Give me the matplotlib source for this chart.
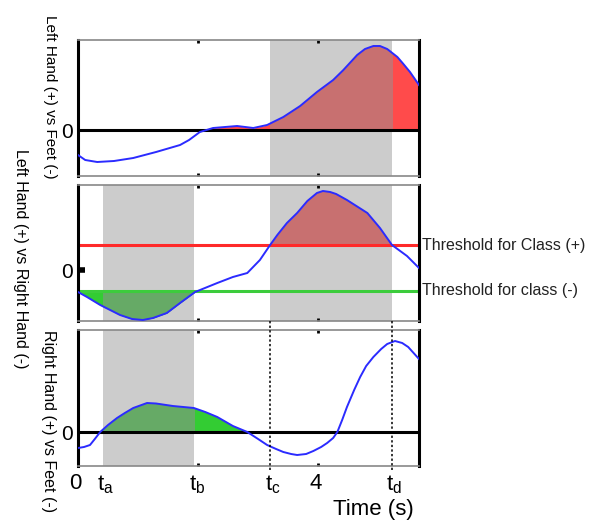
import matplotlib.pyplot as plt
from matplotlib.patches import Rectangle
from matplotlib.transforms import blended_transform_factory, offset_copy

plt.rcParams['font.family'] = ['Liberation Sans', 'DejaVu Sans']
plt.rcParams['mathtext.fontset'] = 'custom'
plt.rcParams['mathtext.rm'] = 'Liberation Sans'

# event times (s)
t_a, t_b, t_c, t_d = 0.41, 1.94, 3.2, 5.23
x_max = 5.68

# panel 1: Left Hand vs Feet
t1 = [0, 0.12, 0.32, 0.6, 0.92, 1.3, 1.7, 1.85, 2.03, 2.25, 2.65, 2.92,
      3.15, 3.42, 3.7, 3.98, 4.25, 4.42, 4.65, 4.78, 4.92, 5.03, 5.15,
      5.32, 5.42, 5.53, 5.68]
y1 = [-2.5, -3.0, -3.2, -3.1, -2.8, -2.2, -1.5, -1.0, -0.2, 0.2, 0.4, 0.2,
      0.5, 1.3, 2.4, 3.8, 5.0, 6.0, 7.5, 8.1, 8.4, 8.4, 8.1,
      7.3, 6.6, 5.8, 4.5]

# panel 2: Left Hand vs Right Hand
t2 = [0, 0.15, 0.37, 0.7, 0.9, 1.08, 1.25, 1.48, 1.7, 1.95, 2.32, 2.58,
      2.82, 3.03, 3.2, 3.32, 3.48, 3.65, 3.82, 3.98, 4.08, 4.2, 4.3, 4.48,
      4.82, 5.03, 5.23, 5.48, 5.68]
y2 = [-2.2, -2.7, -3.5, -4.5, -4.9, -5.0, -4.8, -4.3, -3.3, -2.2, -1.3, -0.7,
      -0.3, 1.0, 2.5, 3.5, 4.7, 5.7, 6.9, 7.7, 7.9, 7.8, 7.6, 7.0,
      5.7, 4.2, 2.5, 1.4, 0.2]
thr_pos, thr_neg = 2.5, -2.1

# panel 3: Right Hand vs Feet
t3 = [0, 0.1, 0.2, 0.28, 0.37, 0.5, 0.65, 0.78, 0.92, 1.15, 1.3, 1.58,
      1.93, 2.12, 2.32, 2.58, 2.82, 3.0, 3.15, 3.3, 3.42, 3.55, 3.65, 3.8,
      3.92, 4.05, 4.15, 4.25, 4.32, 4.4, 4.48, 4.6, 4.7, 4.8, 4.92, 5.05,
      5.15, 5.28, 5.4, 5.5, 5.68]
y3 = [-1.6, -1.5, -1.3, -0.7, 0, 0.7, 1.4, 1.9, 2.4, 2.9, 2.85, 2.6,
      2.4, 2.0, 1.5, 0.6, 0, -0.7, -1.3, -1.7, -2.0, -2.2, -2.3, -2.2,
      -1.9, -1.5, -1.1, -0.6, 0, 1.2, 2.5, 4.2, 5.5, 6.6, 7.5, 8.3,
      8.8, 9.1, 8.9, 8.5, 7.3]

GRAY = '#cccccc'
BLUE = '#2b2bff'
RED, RED_DARK = '#ff4b4b', '#c87070'
GREEN, GREEN_DARK = '#33cc33', '#66aa66'

fig = plt.figure(figsize=(6.0, 5.21), dpi=100)
W, H = 600, 521
left, width = 78 / W, 341 / W
ax1 = fig.add_axes([left, (H - 176) / H, width, 136 / H])
ax2 = fig.add_axes([left, (H - 321) / H, width, 136 / H])
ax3 = fig.add_axes([left, (H - 466) / H, width, 136 / H])


def style(ax, ylim):
    ax.set_xlim(0, x_max)
    ax.set_ylim(*ylim)
    for s in ['left', 'right']:
        ax.spines[s].set_linewidth(2.2)
        ax.spines[s].set_color('black')
    for s in ['top', 'bottom']:
        ax.spines[s].set_linewidth(1.2)
        ax.spines[s].set_color('#888888')
    ax.set_xticks([2, 4])
    ax.tick_params(axis='x', direction='in', length=2, width=2,
                   top=True, bottom=True, labelbottom=False)
    ax.set_yticks([0])
    ax.set_yticklabels(['0'], fontsize=15)
    ax.tick_params(axis='y', length=0, pad=4)


def shade_fill(ax, t, y, base, where, light, dark, spans):
    ax.fill_between(t, y, base, where=where, interpolate=True,
                    color=light, lw=0, zorder=1)
    for a, b in spans:
        p = ax.fill_between(t, y, base, where=where, interpolate=True,
                            color=dark, lw=0, zorder=1.1)
        rect = Rectangle((a, -100), b - a, 200, transform=ax.transData)
        p.set_clip_path(rect)


# panel 1
style(ax1, (-4.6, 9.0))
ax1.axvspan(t_c, t_d, color=GRAY, lw=0, zorder=0)
shade_fill(ax1, t1, y1, 0, [v > 0 and x > 1.9 for x, v in zip(t1, y1)],
           RED, RED_DARK, [(t_c, t_d)])
ax1.axhline(0, color='black', lw=2.2, zorder=2)
ax1.plot(t1, y1, color=BLUE, lw=1.4, zorder=3)

# panel 2
style(ax2, (-5.1, 8.5))
ax2.tick_params(axis='y', direction='in', length=5, width=4)
ax2.axvspan(t_a, t_b, color=GRAY, lw=0, zorder=0)
ax2.axvspan(t_c, t_d, color=GRAY, lw=0, zorder=0)
shade_fill(ax2, t2, [max(v, thr_pos) for v in y2], thr_pos,
           [True] * len(t2), RED, RED_DARK, [(t_c, t_d)])
shade_fill(ax2, t2, [min(v, thr_neg) for v in y2], thr_neg,
           [True] * len(t2), GREEN, GREEN_DARK, [(t_a, t_b)])
ax2.axhline(thr_pos, color='#ff2a2a', lw=2.2, zorder=2)
ax2.axhline(thr_neg, color='#3ccc3c', lw=2.2, zorder=2)
ax2.plot(t2, y2, color=BLUE, lw=1.4, zorder=3)
bt = blended_transform_factory(ax2.transAxes, ax2.transData)
ax2.text(1.01, thr_pos, 'Threshold for Class (+)', transform=bt,
         va='center', ha='left', fontsize=11.5, color='#222222')
ax2.text(1.01, thr_neg, 'Threshold for class (-)', transform=bt,
         va='center', ha='left', fontsize=11.5, color='#222222')

# panel 3
style(ax3, (-3.4, 10.2))
ax3.axvspan(t_a, t_b, color=GRAY, lw=0, zorder=0)
shade_fill(ax3, t3, y3, 0, [v >= 0 and x < 3 for x, v in zip(t3, y3)],
           GREEN, GREEN_DARK, [(t_a, t_b)])
ax3.axhline(0, color='black', lw=2.2, zorder=2)
ax3.plot(t3, y3, color=BLUE, lw=1.4, zorder=3)
for tv in [t_c, t_d]:
    ax3.axvline(tv, ymin=-0.03, ymax=1.07, color='black', lw=1.1,
                ls=(0, (1.5, 1.5)), clip_on=False, zorder=4)

# x labels under bottom panel
trans = blended_transform_factory(ax3.transData, ax3.transAxes)
labels = [(0, '0', 'center'), (t_a, r'$\mathregular{t_a}$', 'left'),
          (t_b, r'$\mathregular{t_b}$', 'left'), (t_c, r'$\mathregular{t_c}$', 'left'),
          (4, '4', 'center'), (t_d, r'$\mathregular{t_d}$', 'left')]
for xv, lab, ha in labels:
    tr = offset_copy(trans, fig=fig, x=-4 if ha == 'left' else -2, y=-5, units='points')
    ax3.text(xv, 0, lab, transform=tr, ha=ha, va='top', fontsize=16)

fig.text(373 / W, 1 - 510 / H, 'Time (s)', ha='center', va='center', fontsize=16)

# y labels
fig.text(50 / W, 1 - 97 / H, 'Left Hand (+) vs Feet (-)', rotation=270,
         ha='center', va='center', fontsize=11)
fig.text(20 / W, 1 - 259 / H, 'Left Hand (+) vs Right Hand (-)', rotation=270,
         ha='center', va='center', fontsize=11.5)
fig.text(48 / W, 1 - 421 / H, 'Right Hand (+) vs Feet (-)', rotation=270,
         ha='center', va='center', fontsize=11.5)

fig.savefig('out.png', dpi=100)
